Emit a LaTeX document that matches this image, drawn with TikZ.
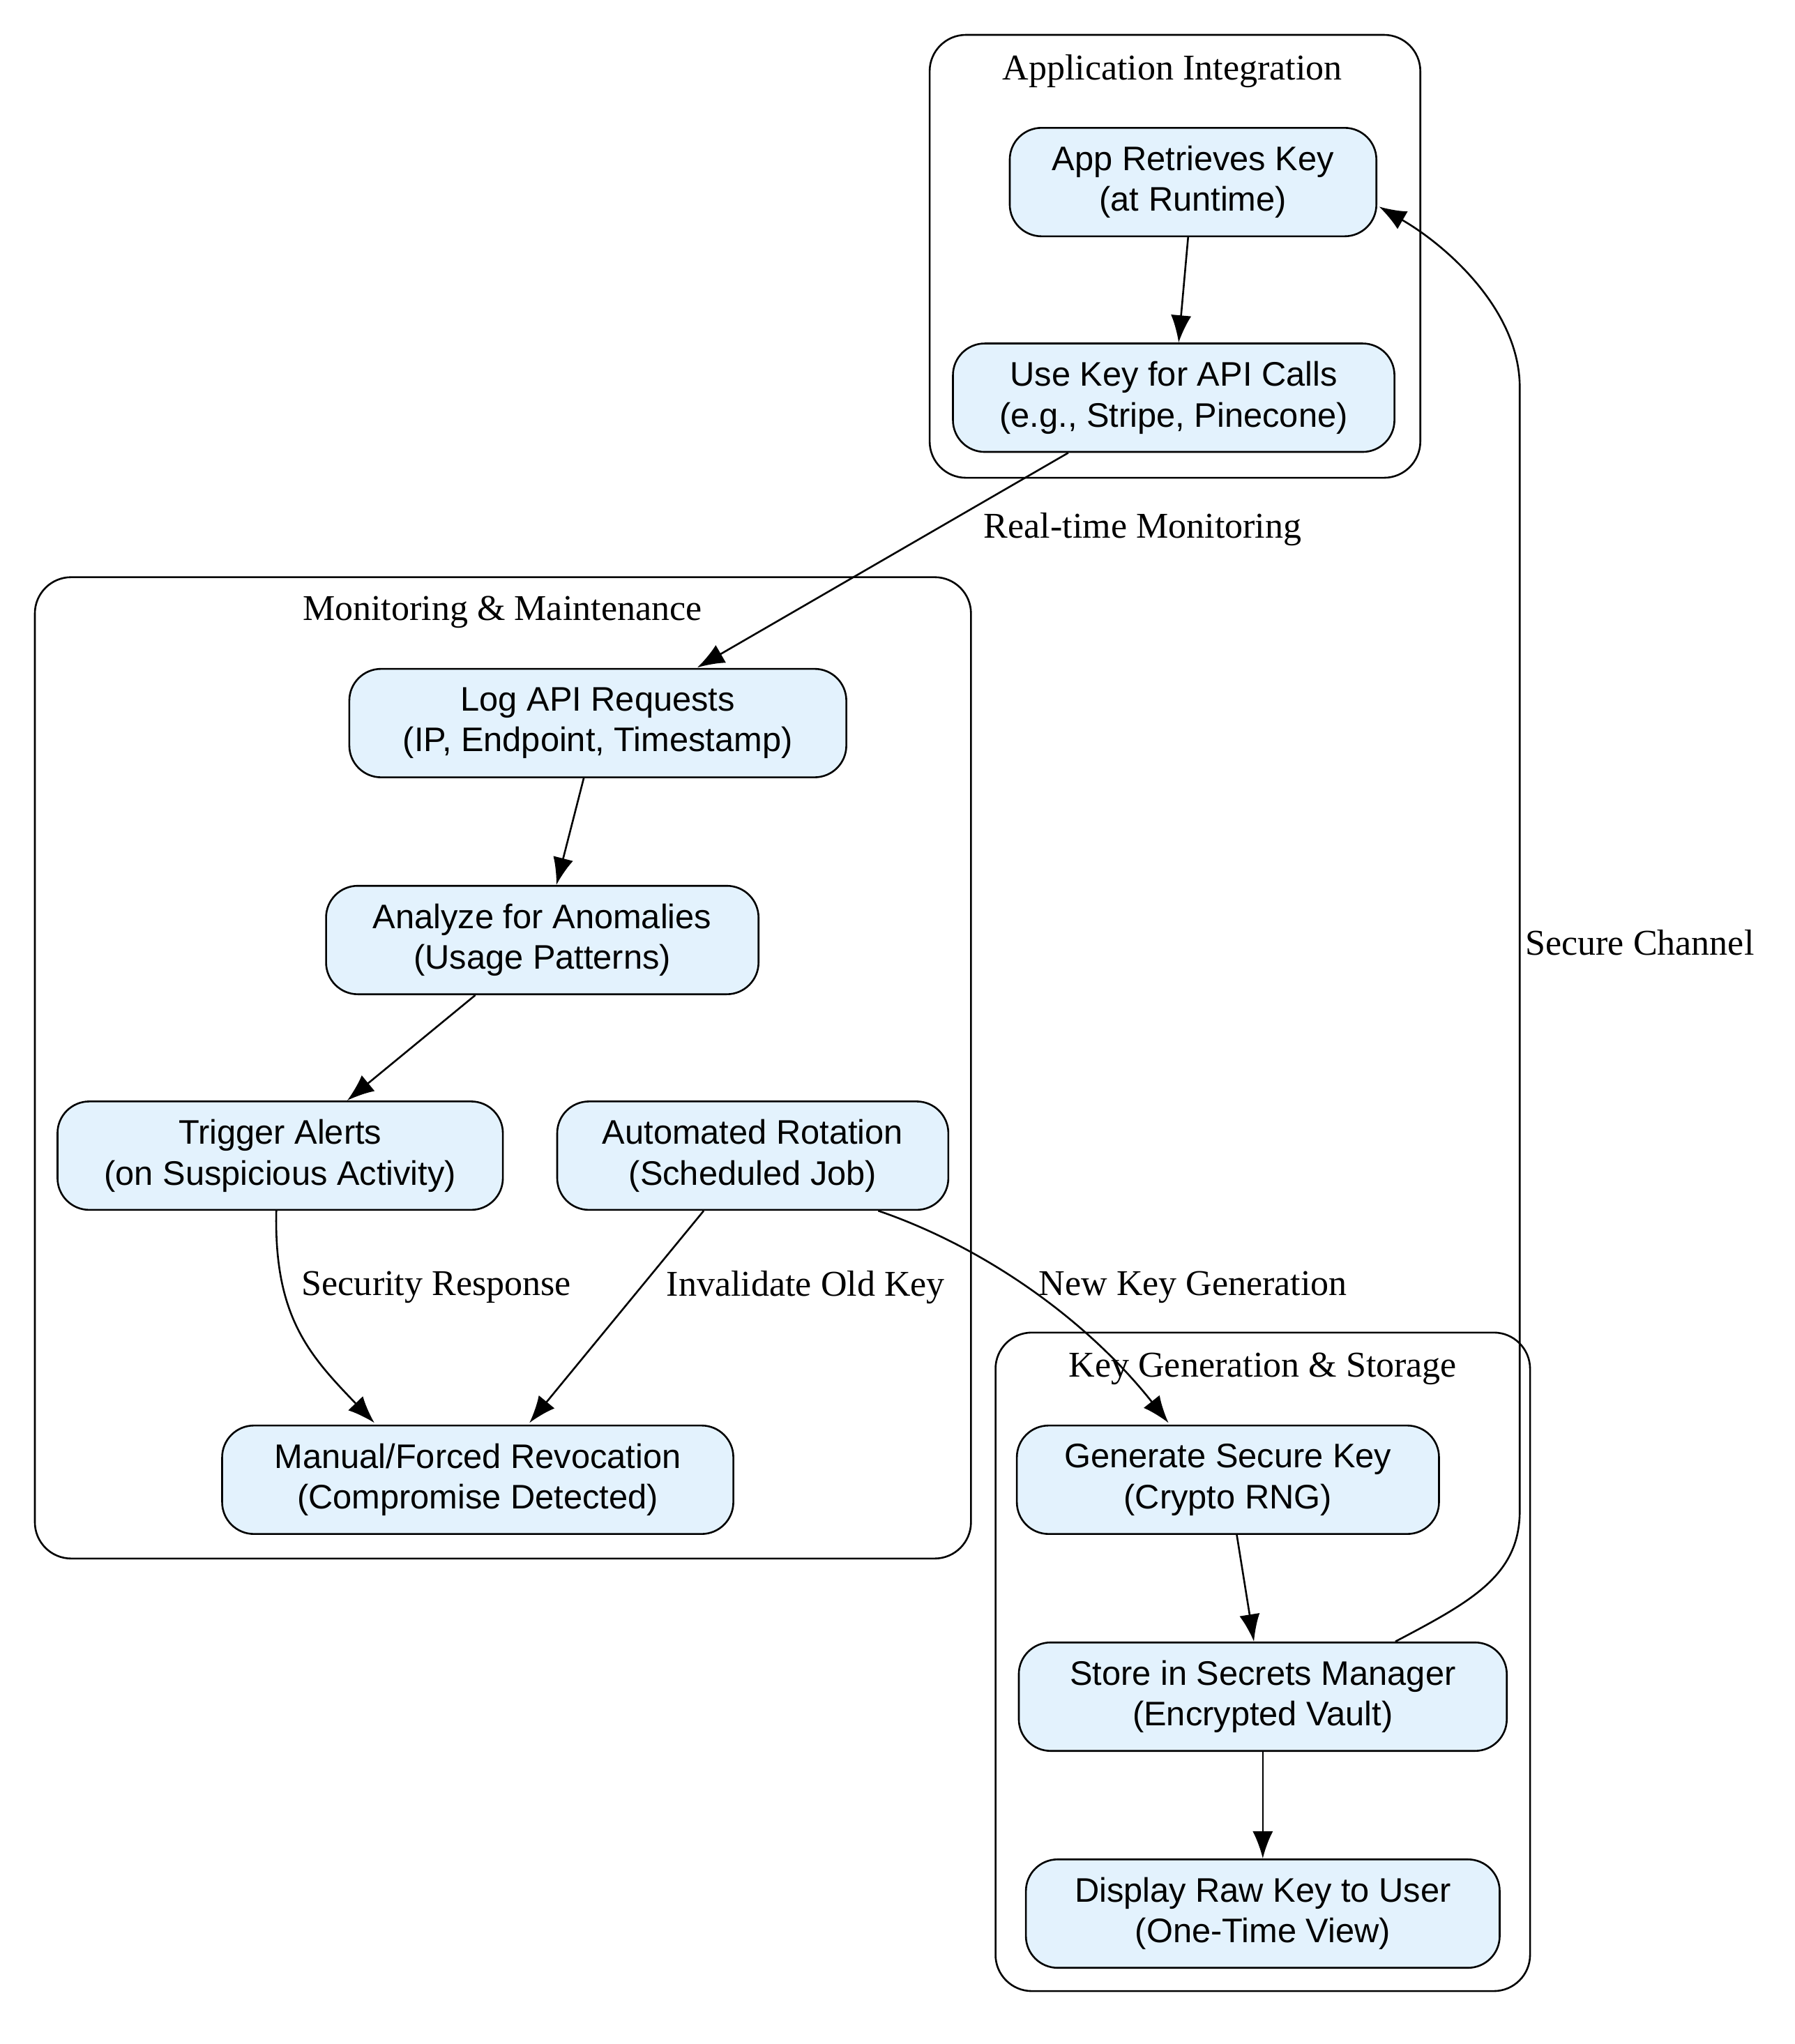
\documentclass[tikz,border=0pt]{standalone}
\usepackage{fontspec}
\setmainfont{Liberation Serif}
\setsansfont{Liberation Sans}
\usetikzlibrary{positioning,arrows.meta}
\definecolor{stepfill}{HTML}{E3F2FD}
\begin{document}
\begin{tikzpicture}[x=0.02cm, y=-0.02cm,
  stage/.style={draw, fill=stepfill, rounded corners=14pt, align=center, thick,
    font=\sffamily\fontsize{15}{18}\selectfont, minimum height=1.68cm, inner sep=2pt},
  cluster/.style={draw, thick, rounded corners=16pt},
  ctitle/.style={font=\fontsize{16}{19}\selectfont},
  lbl/.style={font=\fontsize{16}{19}\selectfont},
  flow/.style={thick, -{Latex[length=12pt,width=9pt]}}]
\useasboundingbox (0,0) rectangle (1390,1583);

% clusters
\draw[cluster] (720,27) rectangle (1100,370);
\node[ctitle] (tapp) at (908,55) {Application Integration};
\draw[cluster] (27,447) rectangle (752,1207);
\node[ctitle] (tmon) at (389,474) {Monitoring \& Maintenance};
\draw[cluster] (771,1032) rectangle (1185,1542);
\node[ctitle] (tkey) at (978,1060) {Key Generation \& Storage};

% stages
\node[stage, minimum width=5.68cm] (retrieve) at (924,141) {App Retrieves Key\\(at Runtime)};
\node[stage, minimum width=6.84cm] (use) at (909,308) {Use Key for API Calls\\(e.g., Stripe, Pinecone)};
\node[stage, minimum width=7.7cm] (log) at (463,560) {Log API Requests\\(IP, Endpoint, Timestamp)};
\node[stage, minimum width=6.7cm] (analyze) at (420,728) {Analyze for Anomalies\\(Usage Patterns)};
\node[stage, minimum width=6.9cm] (alerts) at (217,895) {Trigger Alerts\\(on Suspicious Activity)};
\node[stage, minimum width=6.06cm] (rotate) at (583,895) {Automated Rotation\\(Scheduled Job)};
\node[stage, minimum width=7.92cm] (revoke) at (370,1146) {Manual/Forced Revocation\\(Compromise Detected)};
\node[stage, minimum width=6.54cm] (generate) at (951,1146) {Generate Secure Key\\(Crypto RNG)};
\node[stage, minimum width=7.56cm] (store) at (978,1314) {Store in Secrets Manager\\(Encrypted Vault)};
\node[stage, minimum width=7.34cm] (display) at (978,1482) {Display Raw Key to User\\(One-Time View)};

% connectors
\draw[flow] (retrieve) -- (use);
\draw[flow] (use.south west) ++(90,0) -- (540,517);
\node[lbl] (lrt) at (885,410) {Real-time Monitoring};
\draw[flow] (log) -- (analyze);
\draw[flow] (analyze) -- (alerts);
\draw[flow] (alerts.south) ++(-3,0) .. controls (212,1020) and (240,1050) .. (290,1102);
\node[lbl] (lsec) at (338,997) {Security Response};
\draw[flow] (rotate.south) ++(-38,0) -- (410,1102);
\node[lbl] (linv) at (624,997) {Invalidate Old Key};
\draw[flow] (rotate.south east) ++(-55,0) .. controls (760,965) and (840,1020) .. (905,1102);
\node[lbl] (lnew) at (924,997) {New Key Generation};
\draw[flow] (generate) -- (store);
\draw[flow] (store) -- (display);
\draw[flow] (store.north east) ++(-87,0) .. controls (1140,1240) and (1177,1220) .. (1177,1170)
  -- (1177,300) .. controls (1177,240) and (1120,190) .. (1068,160);
\node[lbl] (lch) at (1270,730) {Secure Channel};
\end{tikzpicture}
\end{document}
